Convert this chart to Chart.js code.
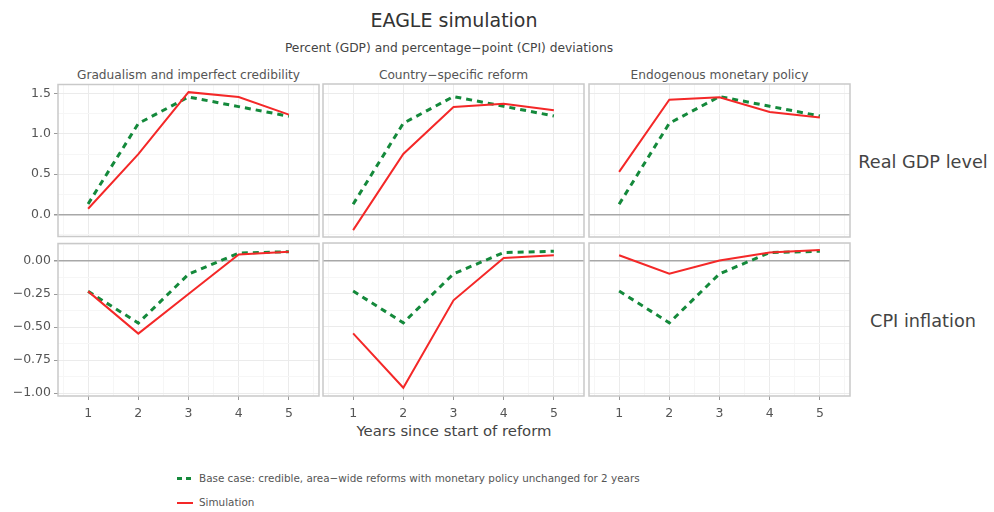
<!DOCTYPE html>
<html>
<head>
<meta charset="utf-8">
<script src="https://cdn.jsdelivr.net/npm/chart.js@4.4.1/dist/chart.umd.min.js"></script>
<style>
  html, body { margin: 0; padding: 0; background: #fff; }
  #page { position: relative; width: 994px; height: 512px; overflow: hidden; font-family: "DejaVu Sans", sans-serif; }
  #page canvas { position: absolute; }
  .txt { position: absolute; white-space: nowrap; color: #4d4d4d; line-height: 1; }
  .center { transform: translateX(-50%); }
  .key { position: absolute; height: 0; }
</style>
</head>
<body>
<div id="page">
  <div class="txt center" style="left:454px; top:11px; font-size:19px; color:#333;">EAGLE simulation</div>
  <div class="txt center" style="left:449px; top:42px; font-size:12.25px; color:#444;">Percent (GDP) and percentage−point (CPI) deviations</div>
  <div class="txt center" style="left:454px; top:424px; font-size:14.85px; color:#444;">Years since start of reform</div>
</div>
<script>
// values
const years = [1, 2, 3, 4, 5];
const yearLabels = ['1', '2', '3', '4', '5'];
const panelTitles = ['Gradualism and imperfect credibility', 'Country\u2212specific reform', 'Endogenous monetary policy'];
const rowTitles = ['Real GDP level', 'CPI inflation'];
const seriesNames = ['Base case: credible, area\u2212wide reforms with monetary policy unchanged for 2 years', 'Simulation'];

const baseGdp = [0.13, 1.13, 1.46, 1.34, 1.22];
const baseCpi = [-0.23, -0.47, -0.10, 0.06, 0.07];

const simGdp = [
  [0.07, 0.75, 1.52, 1.46, 1.24],
  [-0.19, 0.75, 1.33, 1.37, 1.29],
  [0.53, 1.42, 1.45, 1.27, 1.20]
];
const simCpi = [
  [-0.23, -0.55, -0.25, 0.05, 0.07],
  [-0.55, -0.96, -0.30, 0.02, 0.04],
  [0.04, -0.10, 0.00, 0.06, 0.08]
];

const gdpTickValues = [0, 0.5, 1, 1.5];
const gdpTickLabels = ['0.0', '0.5', '1.0', '1.5'];
const cpiTickValues = [0, -0.25, -0.5, -0.75, -1];
const cpiTickLabels = ['0.00', '\u22120.25', '\u22120.50', '\u22120.75', '\u22121.00'];

// layout of the facet grid
const colLeft = [58, 323, 589];
const panelW = 261;
const rowTop = [84, 243];
const panelH = 153;
const yAxisW = 58;
const xAxisH = 30;
const pad = 10;

const GREEN = '#14893b';
const RED = '#f42828';
const FONT = "'DejaVu Sans', sans-serif";

const rowSpec = [
  { min: -0.275, max: 1.615, step: 0.25, values: gdpTickValues, labels: gdpTickLabels, base: baseGdp, sim: simGdp },
  { min: -1.0225, max: 0.1325, step: 0.125, values: cpiTickValues, labels: cpiTickLabels, base: baseCpi, sim: simCpi }
];

const panelBorder = {
  id: 'panelBorder',
  afterDraw(chart) {
    const a = chart.chartArea, c = chart.ctx;
    c.save();
    c.strokeStyle = '#c9c9c9';
    c.lineWidth = 1.5;
    c.strokeRect(a.left, a.top, a.right - a.left, a.bottom - a.top);
    c.restore();
  }
};

const page = document.getElementById('page');

function isMajor(list, v) {
  return list.some(m => Math.abs(m - v) < 1e-6);
}

function addText(txt, left, top, size, color, cls) {
  const d = document.createElement('div');
  d.className = 'txt ' + (cls || '');
  d.style.left = left + 'px';
  d.style.top = top + 'px';
  d.style.fontSize = size + 'px';
  if (color) d.style.color = color;
  d.textContent = txt;
  page.appendChild(d);
}

panelTitles.forEach((t, c) => addText(t, colLeft[c] + panelW / 2, 69, 12.2, '#555', 'center'));
addText(rowTitles[0], 923, 154, 17.7, '#444', 'center');
addText(rowTitles[1], 923, 313, 17.7, '#444', 'center');

function makePanel(r, c) {
  const spec = rowSpec[r];
  const leftAxis = c === 0;
  const bottomAxis = r === 1;
  const axW = leftAxis ? yAxisW : 0;
  const axH = bottomAxis ? xAxisH : 0;

  const cv = document.createElement('canvas');
  const w = axW + panelW + pad * 2;
  const h = panelH + axH + pad * 2;
  cv.width = w; cv.height = h;
  cv.style.width = w + 'px'; cv.style.height = h + 'px';
  cv.style.left = (colLeft[c] - axW - pad) + 'px';
  cv.style.top = (rowTop[r] - pad) + 'px';
  page.appendChild(cv);

  const toPts = arr => years.map((x, i) => ({ x: x, y: arr[i] }));

  return new Chart(cv.getContext('2d'), {
    type: 'line',
    data: {
      datasets: [
        {
          label: seriesNames[0],
          data: toPts(spec.base),
          borderColor: GREEN,
          borderWidth: 3,
          borderDash: [6, 5],
          pointRadius: 0,
          tension: 0,
          order: 1
        },
        {
          label: seriesNames[1],
          data: toPts(spec.sim[c]),
          borderColor: RED,
          borderWidth: 2,
          pointRadius: 0,
          tension: 0,
          order: 0
        }
      ]
    },
    options: {
      responsive: false,
      animation: false,
      devicePixelRatio: 1,
      layout: { padding: pad },
      plugins: { legend: { display: false }, tooltip: { enabled: false } },
      scales: {
        x: {
          type: 'linear',
          min: 0.4,
          max: 5.6,
          afterFit: s => { s.height = axH; },
          border: { display: false },
          grid: {
            drawTicks: bottomAxis,
            tickLength: 4,
            color: ctx => isMajor(years, ctx.tick.value) ? '#ebebeb' : '#f6f6f6',
            tickColor: ctx => isMajor(years, ctx.tick.value) ? '#9a9a9a' : 'rgba(0,0,0,0)',
            lineWidth: 1
          },
          ticks: {
            display: bottomAxis,
            stepSize: 0.5,
            includeBounds: false,
            autoSkip: false,
            maxRotation: 0,
            padding: 6,
            color: '#555',
            font: { family: FONT, size: 12.5 },
            callback: v => {
              const i = years.findIndex(y => Math.abs(y - v) < 1e-6);
              return i >= 0 ? yearLabels[i] : '';
            }
          }
        },
        y: {
          type: 'linear',
          min: spec.min,
          max: spec.max,
          afterFit: s => { s.width = axW; },
          border: { display: false },
          grid: {
            drawTicks: leftAxis,
            tickLength: 4,
            color: ctx => Math.abs(ctx.tick.value) < 1e-6 ? '#a8a8a8' : (isMajor(spec.values, ctx.tick.value) ? '#ebebeb' : '#f6f6f6'),
            lineWidth: ctx => Math.abs(ctx.tick.value) < 1e-6 ? 1.5 : 1,
            tickColor: ctx => isMajor(spec.values, ctx.tick.value) ? '#9a9a9a' : 'rgba(0,0,0,0)'
          },
          ticks: {
            display: leftAxis,
            stepSize: spec.step,
            includeBounds: false,
            autoSkip: false,
            padding: 3,
            color: '#555',
            font: { family: FONT, size: 12.5 },
            callback: v => {
              const i = spec.values.findIndex(m => Math.abs(m - v) < 1e-6);
              return i >= 0 ? spec.labels[i] : '';
            }
          }
        }
      }
    },
    plugins: [panelBorder]
  });
}

for (let r = 0; r < 2; r++) {
  for (let c = 0; c < 3; c++) makePanel(r, c);
}

// legend
const legendRows = [
  { name: seriesNames[0], color: GREEN, dash: true, top: 478 },
  { name: seriesNames[1], color: RED, dash: false, top: 502 }
];
legendRows.forEach(l => {
  const k = document.createElement('div');
  k.className = 'key';
  k.style.left = '177px';
  if (l.dash) {
    k.style.top = (l.top - 1) + 'px';
    k.style.width = '14px';
    k.style.height = '3px';
    k.style.background = 'linear-gradient(to right,' + l.color + ' 0 5px, transparent 5px 9px,' + l.color + ' 9px 14px)';
  } else {
    k.style.top = l.top + 'px';
    k.style.width = '16px';
    k.style.borderTop = '2px solid ' + l.color;
  }
  page.appendChild(k);
  addText(l.name, 199, l.top - 5, 10.4, '#555');
});
</script>
</body>
</html>
